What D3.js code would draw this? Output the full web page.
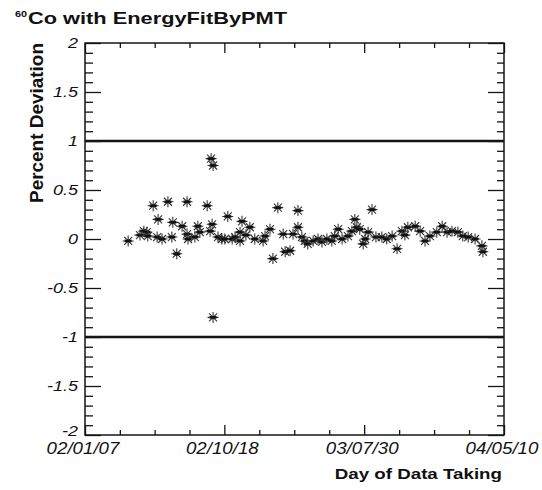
<!DOCTYPE html>
<html>
<head>
<meta charset="utf-8">
<script src="https://cdn.jsdelivr.net/npm/d3@7"></script>
<style>
  html, body { margin: 0; padding: 0; background: #fff; }
  svg { display: block; }
  text { font-family: "Liberation Sans", Arial, Helvetica, sans-serif; fill: #111; }
</style>
</head>
<body>
<svg id="chart" width="542" height="490"></svg>
<script>
// ---------------- data ----------------
const startDate = "2002-01-07";
const endDate = "2004-05-10";
// days since start of data taking
const dayOfRun = [88,112,120,126,128,139,147,149,157,169,177,179,187,198,208,208,210,224,230,234,
  249,255,259,257,261,261,271,279,285,291,300,306,316,316,320,328,336,346,363,367,
  377,383,393,404,408,418,424,434,434,442,448,454,465,475,483,493,503,509,516,524,
  536,544,550,554,560,567,571,577,585,593,605,615,626,636,646,652,658,673,683,693,
  703,717,728,738,748,760,770,781,795,809,811];
// percent deviation
const deviation = [-0.02,0.04,0.08,0.07,0.03,0.34,0.02,0.20,0.00,0.38,0.02,0.17,-0.15,0.13,0.38,0.05,0.00,0.02,0.13,0.07,
  0.34,0.08,0.15,0.82,0.75,-0.80,0.02,0.00,0.00,0.23,0.00,0.02,0.07,-0.02,0.18,0.04,0.12,0.00,-0.02,0.03,
  0.10,-0.20,0.32,0.05,-0.13,-0.12,0.05,0.29,0.12,0.02,-0.02,-0.05,-0.02,0.00,-0.03,0.00,-0.02,0.03,0.10,0.00,
  0.03,0.08,0.20,0.12,0.10,-0.05,0.00,0.07,0.30,0.02,0.02,0.00,0.03,-0.10,0.08,0.04,0.12,0.13,0.08,-0.02,
  0.03,0.07,0.13,0.07,0.08,0.07,0.03,0.02,0.00,-0.07,-0.13];
const xTickDates = ["2002-01-07","2002-10-18","2003-07-30","2004-05-10"];
const xTickLabels = ["02/01/07","02/10/18","03/07/30","04/05/10"];
const yTickValues = [-2,-1.5,-1,-0.5,0,0.5,1,1.5,2];
const yTickLabels = ["-2","-1.5","-1","-0.5","0","0.5","1","1.5","2"];
const referenceLevels = [1,-1];
const titleText = "Co with EnergyFitByPMT";
const titleSup = "60";
const xTitle = "Day of Data Taking";
const yTitle = "Percent Deviation";

// ---------------- layout ----------------
const parse = d3.utcParse("%Y-%m-%d");
const t0 = parse(startDate), t1 = parse(endDate);
const DAY = 86400000;
const L = 85, R = 504, T = 43, B = 435;

const x = d3.scaleUtc().domain([t0, t1]).range([L, R]);
const y = d3.scaleLinear().domain([-2, 2]).range([B, T]);

const svg = d3.select("#chart");
const ink = "#151515";

// minor x ticks: 4 divisions between majors
const majors = xTickDates.map(parse);
const minors = [];
for (let i = 0; i < majors.length - 1; i++) {
  for (let k = 1; k < 4; k++) {
    minors.push(new Date(+majors[i] + (majors[i+1] - majors[i]) * k / 4));
  }
}
const yMinor = d3.range(-2, 2.0001, 0.1).map(v => +v.toFixed(2)).filter(v => !yTickValues.includes(v));

function axisStyle(g) {
  g.select(".domain").remove();
  g.selectAll("line").attr("stroke", ink).attr("stroke-width", 1.3);
}
// bottom
svg.append("g").attr("transform", `translate(0,${B})`)
  .call(d3.axisBottom(x).tickValues(majors).tickSize(-10).tickFormat("")).call(axisStyle);
svg.append("g").attr("transform", `translate(0,${B})`)
  .call(d3.axisBottom(x).tickValues(minors).tickSize(-5).tickFormat("")).call(axisStyle);
// top
svg.append("g").attr("transform", `translate(0,${T})`)
  .call(d3.axisTop(x).tickValues(majors).tickSize(-10).tickFormat("")).call(axisStyle);
svg.append("g").attr("transform", `translate(0,${T})`)
  .call(d3.axisTop(x).tickValues(minors).tickSize(-5).tickFormat("")).call(axisStyle);
// left
svg.append("g").attr("transform", `translate(${L},0)`)
  .call(d3.axisLeft(y).tickValues(yTickValues).tickSize(-16).tickFormat("")).call(axisStyle);
svg.append("g").attr("transform", `translate(${L},0)`)
  .call(d3.axisLeft(y).tickValues(yMinor).tickSize(-8).tickFormat("")).call(axisStyle);
// right
svg.append("g").attr("transform", `translate(${R},0)`)
  .call(d3.axisRight(y).tickValues(yTickValues).tickSize(-16).tickFormat("")).call(axisStyle);
svg.append("g").attr("transform", `translate(${R},0)`)
  .call(d3.axisRight(y).tickValues(yMinor).tickSize(-7).tickFormat("")).call(axisStyle);

// frame
svg.append("rect").attr("x", L).attr("y", T).attr("width", R - L).attr("height", B - T)
  .attr("fill", "none").attr("stroke", ink).attr("stroke-width", 1.5);

// reference lines at +-1
svg.selectAll("line.ref").data(referenceLevels).join("line").attr("class", "ref")
  .attr("x1", L).attr("x2", R).attr("y1", d => y(d)).attr("y2", d => y(d))
  .attr("stroke", ink).attr("stroke-width", 2.4);

// star markers
const pts = dayOfRun.map((d, i) => ({ t: new Date(+t0 + d * DAY), v: deviation[i] }));
const star = "M-5.5,0H5.5M0,-5.5V5.5M-4,-4L4,4M-4,4L4,-4";
const mk = svg.append("g").selectAll("g").data(pts).join("g")
  .attr("transform", d => `translate(${x(d.t)},${y(d.v)})`);
mk.append("path").attr("d", star).attr("stroke", "#333").attr("stroke-width", 1.1).attr("fill", "none");
mk.append("path").attr("d", "M-3.5,0H3.5").attr("stroke", "#111").attr("stroke-width", 2.6);

// text helper: stretch horizontally
function stretchedText(g, str, px, py, size, sx, anchor, weight, style) {
  return g.append("text")
    .attr("transform", `translate(${px},${py}) scale(${sx},1)`)
    .attr("font-size", size).attr("text-anchor", anchor)
    .attr("font-weight", weight || "normal").attr("font-style", style || "normal")
    .text(str);
}

// x tick labels
xTickLabels.forEach((lab, i) => {
  stretchedText(svg, lab, x(majors[i]) - 2, 454, 17, 1.1, "middle", "normal", "italic");
});
// y tick labels (the bottom one sits a little higher, as in the reference)
yTickLabels.forEach((lab, i) => {
  const dy = i === 0 ? 1 : 5;
  stretchedText(svg, lab, 78, y(yTickValues[i]) + dy, 15, 1.2, "end", "normal", "italic");
});

// axis titles
stretchedText(svg, xTitle, 502, 479, 15, 1.25, "end", "bold");
svg.append("text")
  .attr("transform", `translate(43,${T}) rotate(-90)`)
  .attr("font-size", 19).attr("font-weight", "bold").attr("text-anchor", "end")
  .attr("textLength", 160).attr("lengthAdjust", "spacingAndGlyphs")
  .text(yTitle);

// title with superscript
svg.append("text").attr("x", 28).attr("y", 24).attr("font-size", 17).attr("font-weight", "bold")
  .attr("textLength", 259).attr("lengthAdjust", "spacingAndGlyphs").text(titleText);
svg.append("text").attr("x", 15).attr("y", 17).attr("font-size", 9).attr("font-weight", "bold")
  .attr("textLength", 12).attr("lengthAdjust", "spacingAndGlyphs").text(titleSup);
</script>
</body>
</html>
